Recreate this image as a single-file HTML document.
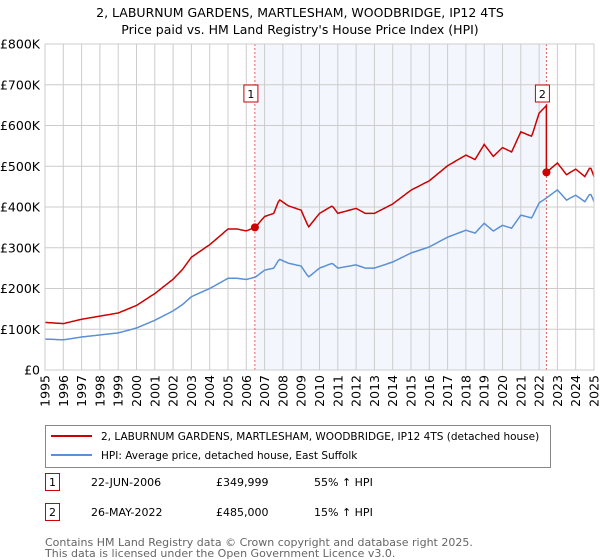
<!DOCTYPE html>
<html><head><meta charset="utf-8"><style>
body{margin:0;background:#fff;font-family:"DejaVu Sans","Liberation Sans",sans-serif;}
#wrap{position:relative;width:600px;height:560px;overflow:hidden}
svg text{font-family:"DejaVu Sans","Liberation Sans",sans-serif}
</style></head><body><div id="wrap">
<svg id="chart" width="600" height="560"></svg>
</div>
<script>
const hpiYears=[1995,1996,1997,1998,1999,2000,2001,2002,2002.5,2003,2004,2005,2005.5,2006,2006.5,2007,2007.5,2007.8,2008.3,2009,2009.4,2010,2010.7,2011,2012,2012.5,2013,2014,2015,2016,2017,2018,2018.5,2019,2019.5,2020,2020.5,2021,2021.6,2022,2022.4,2023,2023.5,2024,2024.5,2024.8,2025];
const hpiValues=[76,74,81,86,91,103,122,145,160,180,200,225,225,222,228,245,250,272,262,255,228,250,262,250,258,250,250,265,287,302,326,343,336,360,341,355,348,380,373,410,422,442,417,429,413,434,413];
const saleDates=[2006.47,2022.4];
const salePrices=[349999,485000];
const saleLabels=["1","2"];
const yTicks=[0,100,200,300,400,500,600,700,800];
const yTickLabels=["£0","£100K","£200K","£300K","£400K","£500K","£600K","£700K","£800K"];
const xYears=[1995,1996,1997,1998,1999,2000,2001,2002,2003,2004,2005,2006,2007,2008,2009,2010,2011,2012,2013,2014,2015,2016,2017,2018,2019,2020,2021,2022,2023,2024,2025];

const svg=document.getElementById('chart');const NS='http://www.w3.org/2000/svg';
const L=45,R=594,T=44,B=370;
const xs=y=>L+(y-1995)/30*(R-L);
const ys=v=>B-v/800*(B-T);
function mk(t,a,p){const e=document.createElementNS(NS,t);for(const k in a)e.setAttribute(k,a[k]);(p||svg).appendChild(e);return e;}
function hpiAt(t){for(let i=0;i<hpiYears.length-1;i++){if(t>=hpiYears[i]&&t<=hpiYears[i+1]){const f=(t-hpiYears[i])/(hpiYears[i+1]-hpiYears[i]);return hpiValues[i]+f*(hpiValues[i+1]-hpiValues[i]);}}return hpiValues[hpiValues.length-1];}

let e;
e=mk('text',{x:300,y:17,'text-anchor':'middle','font-size':12.5});e.textContent='2, LABURNUM GARDENS, MARTLESHAM, WOODBRIDGE, IP12 4TS';

e=mk('text',{x:300,y:34,'text-anchor':'middle','font-size':12.5});e.textContent="Price paid vs. HM Land Registry's House Price Index (HPI)";


e=mk('rect',{x:xs(saleDates[0]),y:T,width:xs(saleDates[1])-xs(saleDates[0]),height:B-T,fill:'#eef3fc',opacity:0.7});

xYears.forEach(y=>{e=mk('line',{x1:xs(y),x2:xs(y),y1:T,y2:B,stroke:'#cccccc','stroke-width':1});
});
yTicks.forEach((v,i)=>{e=mk('line',{x1:L,x2:R,y1:ys(v),y2:ys(v),stroke:'#cccccc','stroke-width':1});

e=mk('text',{x:40,y:ys(v)+4.5,'text-anchor':'end','font-size':12.5});e.textContent=yTickLabels[i];
});
xYears.forEach(y=>{e=mk('text',{x:0,y:0,'text-anchor':'end','font-size':12.5,transform:`translate(${xs(y)+4.5},${B+5}) rotate(-90)`});e.textContent=y;
});
saleDates.forEach(d=>{e=mk('line',{x1:xs(d),x2:xs(d),y1:T,y2:B,stroke:'#e06060','stroke-width':1,'stroke-dasharray':'2,2'});
});

let p='';for(let t=1995;t<=2025.001;t+=1/12){p+=(p?'L':'M')+xs(t).toFixed(1)+','+ys(hpiAt(t)).toFixed(1);}
e=mk('path',{d:p,fill:'none',stroke:'#5b8fd6','stroke-width':1.5});

const r1=salePrices[0]/1000/hpiAt(saleDates[0]),r2=salePrices[1]/1000/hpiAt(saleDates[1]);
p='';for(let t=1995;t<=2025.001;t+=1/12){const r=t<saleDates[1]?r1:r2;p+=(p?'L':'M')+xs(t).toFixed(1)+','+ys(hpiAt(t)*r).toFixed(1);
if(t<saleDates[1]&&t+1/12>=saleDates[1]){p+='L'+xs(saleDates[1]).toFixed(1)+','+ys(hpiAt(saleDates[1])*r1).toFixed(1)+'L'+xs(saleDates[1]).toFixed(1)+','+ys(salePrices[1]/1000).toFixed(1);}}
e=mk('path',{d:p,fill:'none',stroke:'#cc0000','stroke-width':1.5});

saleDates.forEach((d,i)=>{e=mk('circle',{cx:xs(d),cy:ys(salePrices[i]/1000),r:4,fill:'#cc0000'});

e=mk('rect',{x:xs(d)-11,y:85,width:14,height:17,fill:'#fff',stroke:'#cc0000','stroke-width':1});

e=mk('text',{x:xs(d)-4,y:98,'text-anchor':'middle','font-size':11});e.textContent=saleLabels[i];
});
e=mk('rect',{x:L,y:T,width:R-L,height:B-T,fill:'none',stroke:'#cccccc'});


e=mk('rect',{x:45.5,y:425.5,width:505,height:42,fill:'#fff',stroke:'#888'});

e=mk('line',{x1:51,x2:92,y1:436,y2:436,stroke:'#cc0000','stroke-width':2});
e=mk('text',{x:101,y:440,'font-size':10.5});e.textContent='2, LABURNUM GARDENS, MARTLESHAM, WOODBRIDGE, IP12 4TS (detached house)';
e=mk('line',{x1:51,x2:92,y1:455,y2:455,stroke:'#5b8fd6','stroke-width':2});
e=mk('text',{x:101,y:459,'font-size':10.5});e.textContent='HPI: Average price, detached house, East Suffolk';
const rows=[["1","22-JUN-2006","£349,999","55% ↑ HPI",482],["2","26-MAY-2022","£485,000","15% ↑ HPI",512]];
rows.forEach(r=>{e=mk('rect',{x:45.5,y:r[4]-8.5,width:14,height:17,fill:'#fff',stroke:'#cc0000'});
e=mk('text',{x:52.5,y:r[4]+4,'text-anchor':'middle','font-size':11});e.textContent=r[0];
e=mk('text',{x:91,y:r[4]+4,'font-size':11});e.textContent=r[1];
e=mk('text',{x:216,y:r[4]+4,'font-size':11});e.textContent=r[2];
e=mk('text',{x:314,y:r[4]+4,'font-size':11});e.textContent=r[3];});
e=mk('text',{x:45,y:546,'font-size':11,fill:'#666'});e.textContent='Contains HM Land Registry data © Crown copyright and database right 2025.';
e=mk('text',{x:45,y:557,'font-size':11,fill:'#666'});e.textContent='This data is licensed under the Open Government Licence v3.0.';
</script></body></html>
